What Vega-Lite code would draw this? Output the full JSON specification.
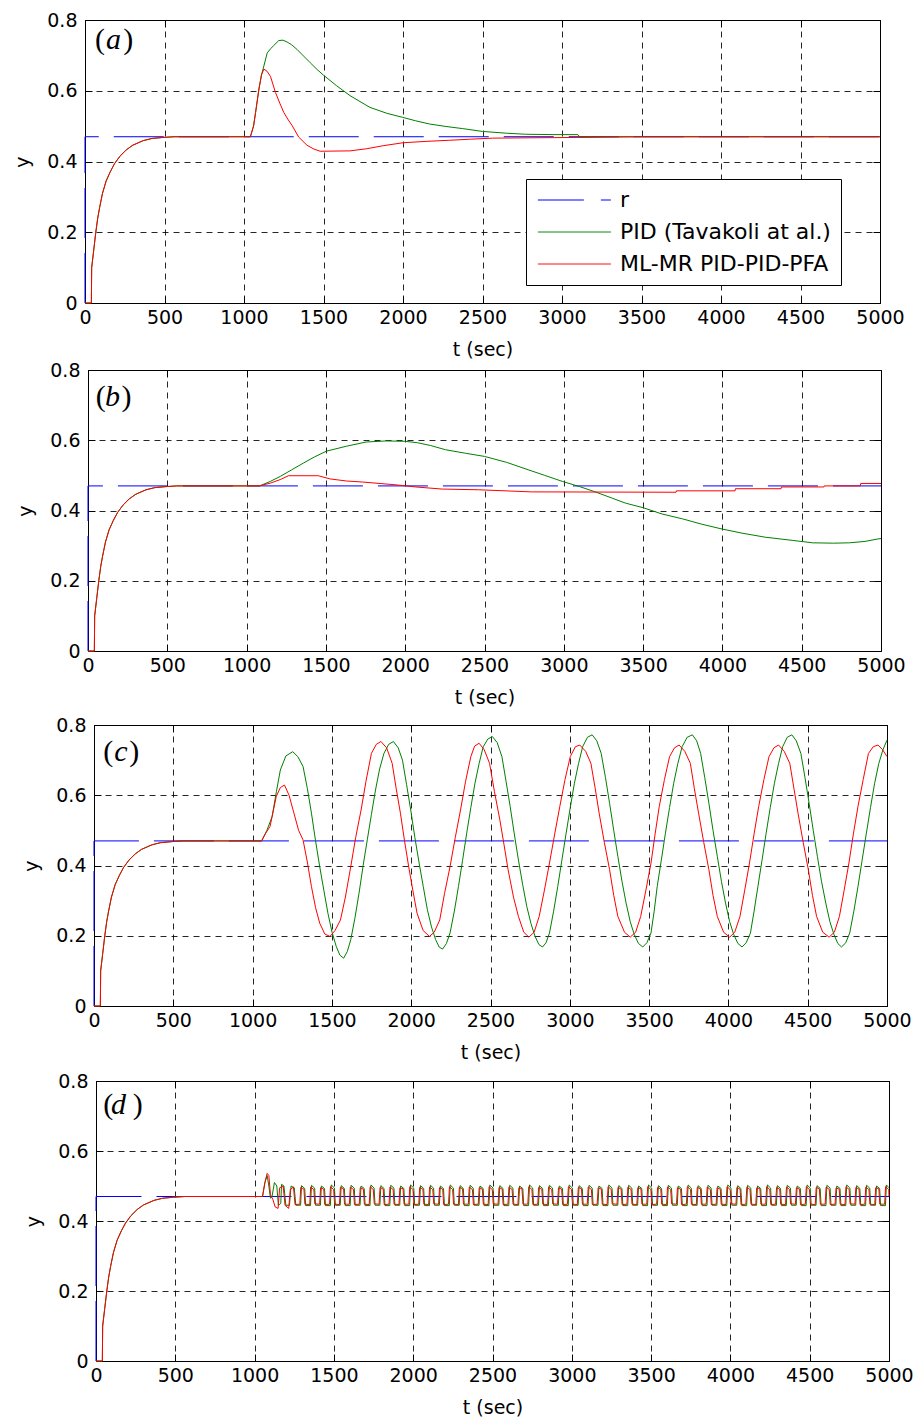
{
"$schema": "https://vega.github.io/schema/vega-lite/v6.json",
"background": "white",
"padding": {"top": 10, "left": 7, "right": 5, "bottom": 5},
"spacing": 0,
"resolve": {"scale": {"color": "independent"}, "legend": {"color": "independent"}},
"config": {
  "view": {"stroke": "black", "strokeWidth": 1},
  "axis": {"labelFont": "DejaVu Sans", "labelFontSize": 19, "labelColor": "black", "titleFont": "DejaVu Sans", "titleFontSize": 19, "titleFontWeight": "normal", "titleColor": "black", "grid": true, "gridColor": "black", "gridDash": [6, 5], "gridOpacity": 0.85, "gridWidth": 1, "domain": false, "ticks": true, "tickSize": -7, "tickColor": "black", "tickWidth": 1, "labelOverlap": false, "labelFlush": false},
  "axisX": {"labelPadding": 12, "titlePadding": 13},
  "axisY": {"labelPadding": 15, "titlePadding": 14}
},
"datasets": {
  "none": [],
  "R": [{"t":0,"y":0},{"t":0,"y":0.47},{"t":5000,"y":0.47}],
  "aM": [{"t":0,"y":0},{"t":40,"y":0},{"t":42,"y":0.1},{"t":55,"y":0.15},{"t":68,"y":0.2},{"t":80,"y":0.24},{"t":92,"y":0.27},{"t":110,"y":0.31},{"t":133,"y":0.345},{"t":160,"y":0.372},{"t":186,"y":0.394},{"t":220,"y":0.415},{"t":260,"y":0.433},{"t":300,"y":0.446},{"t":366,"y":0.459},{"t":420,"y":0.465},{"t":490,"y":0.468},{"t":560,"y":0.47},
    {"t":1040,"y":0.47},{"t":1060,"y":0.5},{"t":1073,"y":0.539},{"t":1094,"y":0.605},{"t":1110,"y":0.645},{"t":1125,"y":0.661},{"t":1145,"y":0.655},{"t":1167,"y":0.64},{"t":1198,"y":0.595},{"t":1225,"y":0.565},{"t":1250,"y":0.539},{"t":1275,"y":0.52},{"t":1302,"y":0.502},{"t":1344,"y":0.469},{"t":1396,"y":0.446},{"t":1440,"y":0.435},{"t":1479,"y":0.429},{"t":1667,"y":0.43},{"t":1771,"y":0.436},{"t":1880,"y":0.445},{"t":2000,"y":0.453},{"t":2150,"y":0.457},{"t":2292,"y":0.46},{"t":2420,"y":0.463},{"t":2563,"y":0.466},{"t":2800,"y":0.467},{"t":3100,"y":0.468},{"t":3500,"y":0.47},{"t":5000,"y":0.47}],
  "aP": [{"t":0,"y":0},{"t":40,"y":0},{"t":42,"y":0.1},{"t":55,"y":0.15},{"t":68,"y":0.2},{"t":80,"y":0.24},{"t":92,"y":0.27},{"t":110,"y":0.31},{"t":133,"y":0.345},{"t":160,"y":0.372},{"t":186,"y":0.394},{"t":220,"y":0.415},{"t":260,"y":0.433},{"t":300,"y":0.446},{"t":366,"y":0.459},{"t":420,"y":0.465},{"t":490,"y":0.468},{"t":560,"y":0.47},
    {"t":1040,"y":0.47},{"t":1060,"y":0.5},{"t":1073,"y":0.539},{"t":1094,"y":0.605},{"t":1110,"y":0.645},{"t":1125,"y":0.67},{"t":1146,"y":0.707},{"t":1170,"y":0.72},{"t":1187,"y":0.728},{"t":1219,"y":0.742},{"t":1245,"y":0.743},{"t":1270,"y":0.738},{"t":1300,"y":0.73},{"t":1333,"y":0.717},{"t":1375,"y":0.698},{"t":1417,"y":0.679},{"t":1460,"y":0.66},{"t":1500,"y":0.644},{"t":1583,"y":0.614},{"t":1667,"y":0.586},{"t":1792,"y":0.553},{"t":1900,"y":0.536},{"t":1996,"y":0.525},{"t":2080,"y":0.515},{"t":2167,"y":0.506},{"t":2270,"y":0.499},{"t":2375,"y":0.493},{"t":2500,"y":0.485},{"t":2650,"y":0.48},{"t":2771,"y":0.477},{"t":2950,"y":0.476},{"t":3100,"y":0.476},{"t":3110,"y":0.47},{"t":3500,"y":0.47},{"t":5000,"y":0.47}],
  "bM": [{"t":0,"y":0},{"t":40,"y":0},{"t":42,"y":0.1},{"t":55,"y":0.15},{"t":68,"y":0.2},{"t":80,"y":0.24},{"t":92,"y":0.27},{"t":110,"y":0.31},{"t":133,"y":0.345},{"t":160,"y":0.372},{"t":186,"y":0.394},{"t":220,"y":0.415},{"t":260,"y":0.433},{"t":300,"y":0.446},{"t":366,"y":0.459},{"t":420,"y":0.465},{"t":490,"y":0.468},{"t":560,"y":0.47},
    {"t":1080,"y":0.47},{"t":1150,"y":0.478},{"t":1212,"y":0.488},{"t":1264,"y":0.499},{"t":1452,"y":0.499},{"t":1525,"y":0.49},{"t":1629,"y":0.484},{"t":1733,"y":0.481},{"t":1942,"y":0.473},{"t":2067,"y":0.467},{"t":2233,"y":0.461},{"t":2462,"y":0.459},{"t":2796,"y":0.453},{"t":3708,"y":0.452},{"t":3710,"y":0.456},{"t":4080,"y":0.456},{"t":4082,"y":0.462},{"t":4370,"y":0.462},{"t":4372,"y":0.467},{"t":4640,"y":0.467},{"t":4642,"y":0.47},{"t":4870,"y":0.47},{"t":4872,"y":0.477},{"t":5000,"y":0.477}],
  "bP": [{"t":0,"y":0},{"t":40,"y":0},{"t":42,"y":0.1},{"t":55,"y":0.15},{"t":68,"y":0.2},{"t":80,"y":0.24},{"t":92,"y":0.27},{"t":110,"y":0.31},{"t":133,"y":0.345},{"t":160,"y":0.372},{"t":186,"y":0.394},{"t":220,"y":0.415},{"t":260,"y":0.433},{"t":300,"y":0.446},{"t":366,"y":0.459},{"t":420,"y":0.465},{"t":490,"y":0.468},{"t":560,"y":0.47},
    {"t":1083,"y":0.47},{"t":1150,"y":0.483},{"t":1212,"y":0.497},{"t":1285,"y":0.516},{"t":1358,"y":0.535},{"t":1430,"y":0.553},{"t":1504,"y":0.569},{"t":1629,"y":0.583},{"t":1754,"y":0.595},{"t":1880,"y":0.598},{"t":2000,"y":0.597},{"t":2077,"y":0.593},{"t":2160,"y":0.585},{"t":2254,"y":0.573},{"t":2380,"y":0.563},{"t":2500,"y":0.554},{"t":2640,"y":0.537},{"t":2775,"y":0.516},{"t":2880,"y":0.5},{"t":2990,"y":0.483},{"t":3100,"y":0.468},{"t":3192,"y":0.454},{"t":3300,"y":0.436},{"t":3389,"y":0.421},{"t":3500,"y":0.408},{"t":3620,"y":0.39},{"t":3750,"y":0.376},{"t":3870,"y":0.361},{"t":4000,"y":0.347},{"t":4130,"y":0.335},{"t":4270,"y":0.324},{"t":4440,"y":0.315},{"t":4570,"y":0.308},{"t":4700,"y":0.307},{"t":4800,"y":0.308},{"t":4900,"y":0.312},{"t":4980,"y":0.319},{"t":5000,"y":0.32}],
  "cM": [{"t":0,"y":0},{"t":40,"y":0},{"t":42,"y":0.1},{"t":55,"y":0.15},{"t":68,"y":0.2},{"t":80,"y":0.24},{"t":92,"y":0.27},{"t":110,"y":0.31},{"t":133,"y":0.345},{"t":160,"y":0.372},{"t":186,"y":0.394},{"t":220,"y":0.415},{"t":260,"y":0.433},{"t":300,"y":0.446},{"t":366,"y":0.459},{"t":420,"y":0.465},{"t":490,"y":0.468},{"t":560,"y":0.47},
    {"t":1057,"y":0.47},{"t":1080,"y":0.49},{"t":1110,"y":0.511},{"t":1149,"y":0.596},{"t":1175,"y":0.622},{"t":1201,"y":0.629},{"t":1230,"y":0.6},{"t":1260,"y":0.55},{"t":1290,"y":0.5},{"t":1318,"y":0.473},{"t":1345,"y":0.41},{"t":1371,"y":0.34},{"t":1397,"y":0.28},{"t":1423,"y":0.236},{"t":1455,"y":0.205},{"t":1488,"y":0.198},{"t":1520,"y":0.215},{"t":1554,"y":0.245},{"t":1585,"y":0.31},{"t":1619,"y":0.397},{"t":1650,"y":0.48},{"t":1684,"y":0.558},{"t":1715,"y":0.64},{"t":1749,"y":0.719},{"t":1780,"y":0.745},{"t":1809,"y":0.753},{"t":1845,"y":0.735},{"t":1880,"y":0.691},{"t":1905,"y":0.62},{"t":1932,"y":0.549},{"t":1958,"y":0.47},{"t":1984,"y":0.397},{"t":2010,"y":0.33},{"t":2037,"y":0.264},{"t":2075,"y":0.215},{"t":2115,"y":0.198},{"t":2145,"y":0.21},{"t":2180,"y":0.245},{"t":2210,"y":0.32},{"t":2245,"y":0.397},{"t":2278,"y":0.48},{"t":2311,"y":0.558},{"t":2343,"y":0.64},{"t":2376,"y":0.71},{"t":2400,"y":0.74},{"t":2428,"y":0.748},{"t":2460,"y":0.73},{"t":2494,"y":0.691},{"t":2525,"y":0.61},{"t":2559,"y":0.53},{"t":2585,"y":0.46},{"t":2611,"y":0.388},{"t":2645,"y":0.31},{"t":2676,"y":0.255},{"t":2710,"y":0.21},{"t":2742,"y":0.196},{"t":2775,"y":0.21},{"t":2807,"y":0.255},{"t":2840,"y":0.33},{"t":2872,"y":0.407},{"t":2905,"y":0.49},{"t":2937,"y":0.568},{"t":2970,"y":0.645},{"t":3003,"y":0.71},{"t":3035,"y":0.738},{"t":3063,"y":0.743},{"t":3100,"y":0.725},{"t":3133,"y":0.691},{"t":3160,"y":0.62},{"t":3185,"y":0.549},{"t":3218,"y":0.465},{"t":3251,"y":0.388},{"t":3277,"y":0.315},{"t":3303,"y":0.255},{"t":3345,"y":0.21},{"t":3381,"y":0.196},{"t":3415,"y":0.21},{"t":3447,"y":0.255},{"t":3480,"y":0.33},{"t":3512,"y":0.407},{"t":3538,"y":0.49},{"t":3564,"y":0.568},{"t":3597,"y":0.645},{"t":3629,"y":0.71},{"t":3660,"y":0.735},{"t":3689,"y":0.743},{"t":3725,"y":0.725},{"t":3760,"y":0.691},{"t":3785,"y":0.62},{"t":3812,"y":0.549},{"t":3845,"y":0.465},{"t":3877,"y":0.388},{"t":3903,"y":0.315},{"t":3930,"y":0.255},{"t":3970,"y":0.21},{"t":4008,"y":0.196},{"t":4040,"y":0.21},{"t":4073,"y":0.255},{"t":4103,"y":0.33},{"t":4133,"y":0.407},{"t":4162,"y":0.49},{"t":4191,"y":0.568},{"t":4224,"y":0.645},{"t":4256,"y":0.71},{"t":4287,"y":0.735},{"t":4316,"y":0.743},{"t":4352,"y":0.725},{"t":4387,"y":0.691},{"t":4413,"y":0.62},{"t":4439,"y":0.549},{"t":4472,"y":0.465},{"t":4504,"y":0.388},{"t":4530,"y":0.315},{"t":4556,"y":0.255},{"t":4595,"y":0.21},{"t":4635,"y":0.196},{"t":4668,"y":0.21},{"t":4700,"y":0.255},{"t":4730,"y":0.33},{"t":4760,"y":0.407},{"t":4788,"y":0.49},{"t":4817,"y":0.568},{"t":4850,"y":0.645},{"t":4883,"y":0.719},{"t":4913,"y":0.738},{"t":4943,"y":0.743},{"t":4972,"y":0.73},{"t":5000,"y":0.71}],
  "cP": [{"t":0,"y":0},{"t":40,"y":0},{"t":42,"y":0.1},{"t":55,"y":0.15},{"t":68,"y":0.2},{"t":80,"y":0.24},{"t":92,"y":0.27},{"t":110,"y":0.31},{"t":133,"y":0.345},{"t":160,"y":0.372},{"t":186,"y":0.394},{"t":220,"y":0.415},{"t":260,"y":0.433},{"t":300,"y":0.446},{"t":366,"y":0.459},{"t":420,"y":0.465},{"t":490,"y":0.468},{"t":560,"y":0.47},
    {"t":1057,"y":0.47},{"t":1090,"y":0.5},{"t":1123,"y":0.539},{"t":1150,"y":0.61},{"t":1175,"y":0.672},{"t":1210,"y":0.712},{"t":1253,"y":0.724},{"t":1285,"y":0.71},{"t":1318,"y":0.682},{"t":1345,"y":0.62},{"t":1371,"y":0.549},{"t":1397,"y":0.47},{"t":1423,"y":0.397},{"t":1449,"y":0.33},{"t":1475,"y":0.264},{"t":1501,"y":0.21},{"t":1527,"y":0.17},{"t":1550,"y":0.145},{"t":1574,"y":0.136},{"t":1597,"y":0.155},{"t":1619,"y":0.189},{"t":1645,"y":0.25},{"t":1671,"y":0.321},{"t":1697,"y":0.4},{"t":1723,"y":0.473},{"t":1749,"y":0.545},{"t":1775,"y":0.615},{"t":1801,"y":0.675},{"t":1828,"y":0.719},{"t":1858,"y":0.745},{"t":1888,"y":0.753},{"t":1918,"y":0.735},{"t":1945,"y":0.7},{"t":1971,"y":0.63},{"t":1997,"y":0.558},{"t":2023,"y":0.48},{"t":2050,"y":0.407},{"t":2076,"y":0.34},{"t":2102,"y":0.274},{"t":2128,"y":0.225},{"t":2154,"y":0.189},{"t":2176,"y":0.168},{"t":2198,"y":0.162},{"t":2222,"y":0.178},{"t":2245,"y":0.208},{"t":2272,"y":0.27},{"t":2298,"y":0.34},{"t":2324,"y":0.415},{"t":2350,"y":0.492},{"t":2376,"y":0.565},{"t":2402,"y":0.634},{"t":2428,"y":0.69},{"t":2454,"y":0.738},{"t":2483,"y":0.76},{"t":2512,"y":0.767},{"t":2542,"y":0.75},{"t":2572,"y":0.71},{"t":2598,"y":0.64},{"t":2624,"y":0.568},{"t":2650,"y":0.49},{"t":2676,"y":0.416},{"t":2703,"y":0.345},{"t":2729,"y":0.283},{"t":2755,"y":0.235},{"t":2781,"y":0.198},{"t":2805,"y":0.175},{"t":2828,"y":0.168},{"t":2850,"y":0.18},{"t":2872,"y":0.208},{"t":2898,"y":0.27},{"t":2924,"y":0.34},{"t":2950,"y":0.415},{"t":2977,"y":0.492},{"t":3003,"y":0.565},{"t":3029,"y":0.634},{"t":3055,"y":0.69},{"t":3081,"y":0.738},{"t":3111,"y":0.765},{"t":3141,"y":0.772},{"t":3170,"y":0.755},{"t":3198,"y":0.719},{"t":3225,"y":0.65},{"t":3251,"y":0.577},{"t":3277,"y":0.5},{"t":3303,"y":0.426},{"t":3329,"y":0.355},{"t":3355,"y":0.293},{"t":3381,"y":0.24},{"t":3407,"y":0.203},{"t":3433,"y":0.178},{"t":3460,"y":0.168},{"t":3486,"y":0.18},{"t":3512,"y":0.208},{"t":3532,"y":0.27},{"t":3551,"y":0.34},{"t":3577,"y":0.415},{"t":3603,"y":0.492},{"t":3629,"y":0.565},{"t":3655,"y":0.634},{"t":3681,"y":0.69},{"t":3708,"y":0.738},{"t":3740,"y":0.765},{"t":3773,"y":0.772},{"t":3800,"y":0.755},{"t":3825,"y":0.719},{"t":3851,"y":0.65},{"t":3877,"y":0.577},{"t":3903,"y":0.5},{"t":3930,"y":0.426},{"t":3956,"y":0.355},{"t":3982,"y":0.293},{"t":4008,"y":0.24},{"t":4034,"y":0.203},{"t":4060,"y":0.178},{"t":4086,"y":0.168},{"t":4112,"y":0.18},{"t":4139,"y":0.208},{"t":4162,"y":0.27},{"t":4186,"y":0.34},{"t":4212,"y":0.415},{"t":4238,"y":0.492},{"t":4264,"y":0.565},{"t":4290,"y":0.634},{"t":4316,"y":0.69},{"t":4342,"y":0.738},{"t":4371,"y":0.765},{"t":4400,"y":0.772},{"t":4428,"y":0.755},{"t":4457,"y":0.719},{"t":4483,"y":0.65},{"t":4509,"y":0.577},{"t":4535,"y":0.5},{"t":4561,"y":0.426},{"t":4587,"y":0.355},{"t":4614,"y":0.293},{"t":4640,"y":0.24},{"t":4666,"y":0.203},{"t":4690,"y":0.178},{"t":4713,"y":0.168},{"t":4740,"y":0.18},{"t":4765,"y":0.208},{"t":4791,"y":0.27},{"t":4817,"y":0.34},{"t":4843,"y":0.415},{"t":4870,"y":0.492},{"t":4896,"y":0.565},{"t":4922,"y":0.634},{"t":4948,"y":0.69},{"t":4974,"y":0.729},{"t":5000,"y":0.757}],
  "dM": [{"t":0,"y":0},{"t":40,"y":0},{"t":42,"y":0.1},{"t":55,"y":0.15},{"t":68,"y":0.2},{"t":80,"y":0.24},{"t":92,"y":0.27},{"t":110,"y":0.31},{"t":133,"y":0.345},{"t":160,"y":0.372},{"t":186,"y":0.394},{"t":220,"y":0.415},{"t":260,"y":0.433},{"t":300,"y":0.446},{"t":366,"y":0.459},{"t":420,"y":0.465},{"t":490,"y":0.468},{"t":560,"y":0.47},
    {"t":1050,"y":0.47},{"t":1065,"y":0.51},{"t":1079,"y":0.536},{"t":1090,"y":0.53},{"t":1100,"y":0.475},{"t":1115,"y":0.462},{"t":1130,"y":0.44},{"t":1148,"y":0.436},{"t":1158,"y":0.495},{"t":1180,"y":0.5},{"t":1192,"y":0.445},{"t":1215,"y":0.436},{"t":1225,"y":0.49},{"t":1245,"y":0.497},{"t":1255,"y":0.447},
    {"t":1285,"y":0.448},{"t":1291,"y":0.496},{"t":1311,"y":0.491},{"t":1317,"y":0.448},
    {"t":1347.5,"y":0.447},{"t":1353.5,"y":0.497},{"t":1373.5,"y":0.49},{"t":1379.5,"y":0.449},
    {"t":1410,"y":0.448},{"t":1416,"y":0.495},{"t":1436,"y":0.491},{"t":1442,"y":0.447},
    {"t":1472.5,"y":0.448},{"t":1478.5,"y":0.498},{"t":1498.5,"y":0.49},{"t":1504.5,"y":0.448},
    {"t":1535,"y":0.447},{"t":1541,"y":0.496},{"t":1561,"y":0.492},{"t":1567,"y":0.448},
    {"t":1597.5,"y":0.448},{"t":1603.5,"y":0.497},{"t":1623.5,"y":0.49},{"t":1629.5,"y":0.447},
    {"t":1660,"y":0.448},{"t":1666,"y":0.495},{"t":1686,"y":0.491},{"t":1692,"y":0.448},
    {"t":1722.5,"y":0.447},{"t":1728.5,"y":0.498},{"t":1748.5,"y":0.49},{"t":1754.5,"y":0.449},
    {"t":1785,"y":0.448},{"t":1791,"y":0.496},{"t":1811,"y":0.491},{"t":1817,"y":0.447},
    {"t":1847.5,"y":0.448},{"t":1853.5,"y":0.497},{"t":1873.5,"y":0.49},{"t":1879.5,"y":0.448},
    {"t":1910,"y":0.447},{"t":1916,"y":0.495},{"t":1936,"y":0.492},{"t":1942,"y":0.448},
    {"t":1972.5,"y":0.448},{"t":1978.5,"y":0.498},{"t":1998.5,"y":0.49},{"t":2004.5,"y":0.447},
    {"t":2035,"y":0.448},{"t":2041,"y":0.496},{"t":2061,"y":0.491},{"t":2067,"y":0.448},
    {"t":2097.5,"y":0.447},{"t":2103.5,"y":0.497},{"t":2123.5,"y":0.49},{"t":2129.5,"y":0.449},
    {"t":2160,"y":0.448},{"t":2166,"y":0.495},{"t":2186,"y":0.491},{"t":2192,"y":0.447},
    {"t":2222.5,"y":0.448},{"t":2228.5,"y":0.498},{"t":2248.5,"y":0.49},{"t":2254.5,"y":0.448},
    {"t":2285,"y":0.447},{"t":2291,"y":0.496},{"t":2311,"y":0.492},{"t":2317,"y":0.448},
    {"t":2347.5,"y":0.448},{"t":2353.5,"y":0.497},{"t":2373.5,"y":0.49},{"t":2379.5,"y":0.447},
    {"t":2410,"y":0.448},{"t":2416,"y":0.495},{"t":2436,"y":0.491},{"t":2442,"y":0.448},
    {"t":2472.5,"y":0.447},{"t":2478.5,"y":0.498},{"t":2498.5,"y":0.49},{"t":2504.5,"y":0.449},
    {"t":2535,"y":0.448},{"t":2541,"y":0.496},{"t":2561,"y":0.491},{"t":2567,"y":0.447},
    {"t":2597.5,"y":0.448},{"t":2603.5,"y":0.497},{"t":2623.5,"y":0.49},{"t":2629.5,"y":0.448},
    {"t":2660,"y":0.447},{"t":2666,"y":0.495},{"t":2686,"y":0.492},{"t":2692,"y":0.448},
    {"t":2722.5,"y":0.448},{"t":2728.5,"y":0.498},{"t":2748.5,"y":0.49},{"t":2754.5,"y":0.447},
    {"t":2785,"y":0.448},{"t":2791,"y":0.496},{"t":2811,"y":0.491},{"t":2817,"y":0.448},
    {"t":2847.5,"y":0.447},{"t":2853.5,"y":0.497},{"t":2873.5,"y":0.49},{"t":2879.5,"y":0.449},
    {"t":2910,"y":0.448},{"t":2916,"y":0.495},{"t":2936,"y":0.491},{"t":2942,"y":0.447},
    {"t":2972.5,"y":0.448},{"t":2978.5,"y":0.498},{"t":2998.5,"y":0.49},{"t":3004.5,"y":0.448},
    {"t":3035,"y":0.447},{"t":3041,"y":0.496},{"t":3061,"y":0.492},{"t":3067,"y":0.448},
    {"t":3097.5,"y":0.448},{"t":3103.5,"y":0.497},{"t":3123.5,"y":0.49},{"t":3129.5,"y":0.447},
    {"t":3160,"y":0.448},{"t":3166,"y":0.495},{"t":3186,"y":0.491},{"t":3192,"y":0.448},
    {"t":3222.5,"y":0.447},{"t":3228.5,"y":0.498},{"t":3248.5,"y":0.49},{"t":3254.5,"y":0.449},
    {"t":3285,"y":0.448},{"t":3291,"y":0.496},{"t":3311,"y":0.491},{"t":3317,"y":0.447},
    {"t":3347.5,"y":0.448},{"t":3353.5,"y":0.497},{"t":3373.5,"y":0.49},{"t":3379.5,"y":0.448},
    {"t":3410,"y":0.447},{"t":3416,"y":0.495},{"t":3436,"y":0.492},{"t":3442,"y":0.448},
    {"t":3472.5,"y":0.448},{"t":3478.5,"y":0.498},{"t":3498.5,"y":0.49},{"t":3504.5,"y":0.447},
    {"t":3535,"y":0.448},{"t":3541,"y":0.496},{"t":3561,"y":0.491},{"t":3567,"y":0.448},
    {"t":3597.5,"y":0.447},{"t":3603.5,"y":0.497},{"t":3623.5,"y":0.49},{"t":3629.5,"y":0.449},
    {"t":3660,"y":0.448},{"t":3666,"y":0.495},{"t":3686,"y":0.491},{"t":3692,"y":0.447},
    {"t":3722.5,"y":0.448},{"t":3728.5,"y":0.498},{"t":3748.5,"y":0.49},{"t":3754.5,"y":0.448},
    {"t":3785,"y":0.447},{"t":3791,"y":0.496},{"t":3811,"y":0.492},{"t":3817,"y":0.448},
    {"t":3847.5,"y":0.448},{"t":3853.5,"y":0.497},{"t":3873.5,"y":0.49},{"t":3879.5,"y":0.447},
    {"t":3910,"y":0.448},{"t":3916,"y":0.495},{"t":3936,"y":0.491},{"t":3942,"y":0.448},
    {"t":3972.5,"y":0.447},{"t":3978.5,"y":0.498},{"t":3998.5,"y":0.49},{"t":4004.5,"y":0.449},
    {"t":4035,"y":0.448},{"t":4041,"y":0.496},{"t":4061,"y":0.491},{"t":4067,"y":0.447},
    {"t":4097.5,"y":0.448},{"t":4103.5,"y":0.497},{"t":4123.5,"y":0.49},{"t":4129.5,"y":0.448},
    {"t":4160,"y":0.447},{"t":4166,"y":0.495},{"t":4186,"y":0.492},{"t":4192,"y":0.448},
    {"t":4222.5,"y":0.448},{"t":4228.5,"y":0.498},{"t":4248.5,"y":0.49},{"t":4254.5,"y":0.447},
    {"t":4285,"y":0.448},{"t":4291,"y":0.496},{"t":4311,"y":0.491},{"t":4317,"y":0.448},
    {"t":4347.5,"y":0.447},{"t":4353.5,"y":0.497},{"t":4373.5,"y":0.49},{"t":4379.5,"y":0.449},
    {"t":4410,"y":0.448},{"t":4416,"y":0.495},{"t":4436,"y":0.491},{"t":4442,"y":0.447},
    {"t":4472.5,"y":0.448},{"t":4478.5,"y":0.498},{"t":4498.5,"y":0.49},{"t":4504.5,"y":0.448},
    {"t":4535,"y":0.447},{"t":4541,"y":0.496},{"t":4561,"y":0.492},{"t":4567,"y":0.448},
    {"t":4597.5,"y":0.448},{"t":4603.5,"y":0.497},{"t":4623.5,"y":0.49},{"t":4629.5,"y":0.447},
    {"t":4660,"y":0.448},{"t":4666,"y":0.495},{"t":4686,"y":0.491},{"t":4692,"y":0.448},
    {"t":4722.5,"y":0.447},{"t":4728.5,"y":0.498},{"t":4748.5,"y":0.49},{"t":4754.5,"y":0.449},
    {"t":4785,"y":0.448},{"t":4791,"y":0.496},{"t":4811,"y":0.491},{"t":4817,"y":0.447},
    {"t":4847.5,"y":0.448},{"t":4853.5,"y":0.497},{"t":4873.5,"y":0.49},{"t":4879.5,"y":0.448},
    {"t":4910,"y":0.447},{"t":4916,"y":0.495},{"t":4936,"y":0.492},{"t":4942,"y":0.448},
    {"t":4972.5,"y":0.448},{"t":4978.5,"y":0.498},{"t":4998.5,"y":0.49},{"t":5000,"y":0.47}],
  "dP": [{"t":0,"y":0},{"t":40,"y":0},{"t":42,"y":0.1},{"t":55,"y":0.15},{"t":68,"y":0.2},{"t":80,"y":0.24},{"t":92,"y":0.27},{"t":110,"y":0.31},{"t":133,"y":0.345},{"t":160,"y":0.372},{"t":186,"y":0.394},{"t":220,"y":0.415},{"t":260,"y":0.433},{"t":300,"y":0.446},{"t":366,"y":0.459},{"t":420,"y":0.465},{"t":490,"y":0.468},{"t":560,"y":0.47},
    {"t":1050,"y":0.47},{"t":1065,"y":0.51},{"t":1079,"y":0.53},{"t":1090,"y":0.5},{"t":1100,"y":0.465},{"t":1110,"y":0.47},{"t":1125,"y":0.51},{"t":1140,"y":0.5},{"t":1150,"y":0.445},{"t":1165,"y":0.45},{"t":1170,"y":0.505},{"t":1185,"y":0.5},{"t":1197,"y":0.445},{"t":1220,"y":0.445},{"t":1230,"y":0.5},{"t":1250,"y":0.495},{"t":1260,"y":0.445},
    {"t":1290,"y":0.445},{"t":1296,"y":0.501},{"t":1316,"y":0.493},{"t":1322,"y":0.444},
    {"t":1352.5,"y":0.444},{"t":1358.5,"y":0.502},{"t":1378.5,"y":0.494},{"t":1384.5,"y":0.445},
    {"t":1415,"y":0.445},{"t":1421,"y":0.5},{"t":1441,"y":0.493},{"t":1447,"y":0.444},
    {"t":1477.5,"y":0.444},{"t":1483.5,"y":0.503},{"t":1503.5,"y":0.494},{"t":1509.5,"y":0.445},
    {"t":1540,"y":0.445},{"t":1546,"y":0.501},{"t":1566,"y":0.493},{"t":1572,"y":0.444},
    {"t":1602.5,"y":0.444},{"t":1608.5,"y":0.502},{"t":1628.5,"y":0.494},{"t":1634.5,"y":0.445},
    {"t":1665,"y":0.445},{"t":1671,"y":0.5},{"t":1691,"y":0.493},{"t":1697,"y":0.444},
    {"t":1727.5,"y":0.444},{"t":1733.5,"y":0.503},{"t":1753.5,"y":0.494},{"t":1759.5,"y":0.445},
    {"t":1790,"y":0.445},{"t":1796,"y":0.501},{"t":1816,"y":0.493},{"t":1822,"y":0.444},
    {"t":1852.5,"y":0.444},{"t":1858.5,"y":0.502},{"t":1878.5,"y":0.494},{"t":1884.5,"y":0.445},
    {"t":1915,"y":0.445},{"t":1921,"y":0.5},{"t":1941,"y":0.493},{"t":1947,"y":0.444},
    {"t":1977.5,"y":0.444},{"t":1983.5,"y":0.503},{"t":2003.5,"y":0.494},{"t":2009.5,"y":0.445},
    {"t":2040,"y":0.445},{"t":2046,"y":0.501},{"t":2066,"y":0.493},{"t":2072,"y":0.444},
    {"t":2102.5,"y":0.444},{"t":2108.5,"y":0.502},{"t":2128.5,"y":0.494},{"t":2134.5,"y":0.445},
    {"t":2165,"y":0.445},{"t":2171,"y":0.5},{"t":2191,"y":0.493},{"t":2197,"y":0.444},
    {"t":2227.5,"y":0.444},{"t":2233.5,"y":0.503},{"t":2253.5,"y":0.494},{"t":2259.5,"y":0.445},
    {"t":2290,"y":0.445},{"t":2296,"y":0.501},{"t":2316,"y":0.493},{"t":2322,"y":0.444},
    {"t":2352.5,"y":0.444},{"t":2358.5,"y":0.502},{"t":2378.5,"y":0.494},{"t":2384.5,"y":0.445},
    {"t":2415,"y":0.445},{"t":2421,"y":0.5},{"t":2441,"y":0.493},{"t":2447,"y":0.444},
    {"t":2477.5,"y":0.444},{"t":2483.5,"y":0.503},{"t":2503.5,"y":0.494},{"t":2509.5,"y":0.445},
    {"t":2540,"y":0.445},{"t":2546,"y":0.501},{"t":2566,"y":0.493},{"t":2572,"y":0.444},
    {"t":2602.5,"y":0.444},{"t":2608.5,"y":0.502},{"t":2628.5,"y":0.494},{"t":2634.5,"y":0.445},
    {"t":2665,"y":0.445},{"t":2671,"y":0.5},{"t":2691,"y":0.493},{"t":2697,"y":0.444},
    {"t":2727.5,"y":0.444},{"t":2733.5,"y":0.503},{"t":2753.5,"y":0.494},{"t":2759.5,"y":0.445},
    {"t":2790,"y":0.445},{"t":2796,"y":0.501},{"t":2816,"y":0.493},{"t":2822,"y":0.444},
    {"t":2852.5,"y":0.444},{"t":2858.5,"y":0.502},{"t":2878.5,"y":0.494},{"t":2884.5,"y":0.445},
    {"t":2915,"y":0.445},{"t":2921,"y":0.5},{"t":2941,"y":0.493},{"t":2947,"y":0.444},
    {"t":2977.5,"y":0.444},{"t":2983.5,"y":0.503},{"t":3003.5,"y":0.494},{"t":3009.5,"y":0.445},
    {"t":3040,"y":0.445},{"t":3046,"y":0.501},{"t":3066,"y":0.493},{"t":3072,"y":0.444},
    {"t":3102.5,"y":0.444},{"t":3108.5,"y":0.502},{"t":3128.5,"y":0.494},{"t":3134.5,"y":0.445},
    {"t":3165,"y":0.445},{"t":3171,"y":0.5},{"t":3191,"y":0.493},{"t":3197,"y":0.444},
    {"t":3227.5,"y":0.444},{"t":3233.5,"y":0.503},{"t":3253.5,"y":0.494},{"t":3259.5,"y":0.445},
    {"t":3290,"y":0.445},{"t":3296,"y":0.501},{"t":3316,"y":0.493},{"t":3322,"y":0.444},
    {"t":3352.5,"y":0.444},{"t":3358.5,"y":0.502},{"t":3378.5,"y":0.494},{"t":3384.5,"y":0.445},
    {"t":3415,"y":0.445},{"t":3421,"y":0.5},{"t":3441,"y":0.493},{"t":3447,"y":0.444},
    {"t":3477.5,"y":0.444},{"t":3483.5,"y":0.503},{"t":3503.5,"y":0.494},{"t":3509.5,"y":0.445},
    {"t":3540,"y":0.445},{"t":3546,"y":0.501},{"t":3566,"y":0.493},{"t":3572,"y":0.444},
    {"t":3602.5,"y":0.444},{"t":3608.5,"y":0.502},{"t":3628.5,"y":0.494},{"t":3634.5,"y":0.445},
    {"t":3665,"y":0.445},{"t":3671,"y":0.5},{"t":3691,"y":0.493},{"t":3697,"y":0.444},
    {"t":3727.5,"y":0.444},{"t":3733.5,"y":0.503},{"t":3753.5,"y":0.494},{"t":3759.5,"y":0.445},
    {"t":3790,"y":0.445},{"t":3796,"y":0.501},{"t":3816,"y":0.493},{"t":3822,"y":0.444},
    {"t":3852.5,"y":0.444},{"t":3858.5,"y":0.502},{"t":3878.5,"y":0.494},{"t":3884.5,"y":0.445},
    {"t":3915,"y":0.445},{"t":3921,"y":0.5},{"t":3941,"y":0.493},{"t":3947,"y":0.444},
    {"t":3977.5,"y":0.444},{"t":3983.5,"y":0.503},{"t":4003.5,"y":0.494},{"t":4009.5,"y":0.445},
    {"t":4040,"y":0.445},{"t":4046,"y":0.501},{"t":4066,"y":0.493},{"t":4072,"y":0.444},
    {"t":4102.5,"y":0.444},{"t":4108.5,"y":0.502},{"t":4128.5,"y":0.494},{"t":4134.5,"y":0.445},
    {"t":4165,"y":0.445},{"t":4171,"y":0.5},{"t":4191,"y":0.493},{"t":4197,"y":0.444},
    {"t":4227.5,"y":0.444},{"t":4233.5,"y":0.503},{"t":4253.5,"y":0.494},{"t":4259.5,"y":0.445},
    {"t":4290,"y":0.445},{"t":4296,"y":0.501},{"t":4316,"y":0.493},{"t":4322,"y":0.444},
    {"t":4352.5,"y":0.444},{"t":4358.5,"y":0.502},{"t":4378.5,"y":0.494},{"t":4384.5,"y":0.445},
    {"t":4415,"y":0.445},{"t":4421,"y":0.5},{"t":4441,"y":0.493},{"t":4447,"y":0.444},
    {"t":4477.5,"y":0.444},{"t":4483.5,"y":0.503},{"t":4503.5,"y":0.494},{"t":4509.5,"y":0.445},
    {"t":4540,"y":0.445},{"t":4546,"y":0.501},{"t":4566,"y":0.493},{"t":4572,"y":0.444},
    {"t":4602.5,"y":0.444},{"t":4608.5,"y":0.502},{"t":4628.5,"y":0.494},{"t":4634.5,"y":0.445},
    {"t":4665,"y":0.445},{"t":4671,"y":0.5},{"t":4691,"y":0.493},{"t":4697,"y":0.444},
    {"t":4727.5,"y":0.444},{"t":4733.5,"y":0.503},{"t":4753.5,"y":0.494},{"t":4759.5,"y":0.445},
    {"t":4790,"y":0.445},{"t":4796,"y":0.501},{"t":4816,"y":0.493},{"t":4822,"y":0.444},
    {"t":4852.5,"y":0.444},{"t":4858.5,"y":0.502},{"t":4878.5,"y":0.494},{"t":4884.5,"y":0.445},
    {"t":4915,"y":0.445},{"t":4921,"y":0.5},{"t":4941,"y":0.493},{"t":4947,"y":0.444},
    {"t":4977.5,"y":0.444},{"t":4983.5,"y":0.503},{"t":5000,"y":0.495}]
},
"vconcat": [
  {"hconcat": [
    {"width": 1, "height": 1, "view": {"stroke": "transparent"}, "data": {"name": "none"}, "mark": "point", "encoding": {}},
    {
    "width": 795, "height": 283,
    "resolve": {"axis": {"x": "independent", "y": "independent"}},
    "layer": [
     {"layer": [
      {"data": {"name": "R"}, "mark": {"type": "line", "strokeWidth": 1, "strokeDash": [50, 15]},
       "encoding": {
         "x": {"field": "t", "type": "quantitative", "scale": {"domain": [0, 5000], "nice": false, "zero": false}, "axis": {"title": "t (sec)", "values": [0,500,1000,1500,2000,2500,3000,3500,4000,4500,5000], "format": "d"}},
         "y": {"field": "y", "type": "quantitative", "scale": {"domain": [0, 0.8], "nice": false}, "axis": {"title": "y", "values": [0,0.2,0.4,0.6,0.8], "format": "~g"}},
         "order": {"value": null}, "color": {"datum": "r", "scale": {"domain": ["r", "PID (Tavakoli at al.)", "ML-MR PID-PID-PFA"], "range": ["#0000ff", "#008000", "#ff0000"]},
         "legend": {"orient": "none", "legendX": 441, "legendY": 159, "title": null, "strokeColor": "black", "fillColor": "white", "padding": 10, "cornerRadius": 0, "symbolType": "M -1 0 L 7 0", "symbolSize": 333, "symbolStrokeWidth": 1, "labelFont": "DejaVu Sans", "labelFontSize": 22, "labelColor": "black", "labelOffset": 62, "rowPadding": 10, "labelLimit": 400,
           "encode": {"symbols": {"update": {"strokeDash": {"signal": "datum.value === 'r' ? [46, 17] : [1, 0]"}}}}}}}},
      {"data": {"name": "aP"}, "mark": {"type": "line", "strokeWidth": 1}, "encoding": {"x": {"field": "t", "type": "quantitative"}, "y": {"field": "y", "type": "quantitative"}, "order": {"value": null}, "color": {"datum": "PID (Tavakoli at al.)"}}},
      {"data": {"name": "aM"}, "mark": {"type": "line", "strokeWidth": 1}, "encoding": {"x": {"field": "t", "type": "quantitative"}, "y": {"field": "y", "type": "quantitative"}, "order": {"value": null}, "color": {"datum": "ML-MR PID-PID-PFA"}}},
      {"data": {"values": [{"lab": "("}]}, "mark": {"type": "text", "font": "Liberation Serif", "fontSize": 30, "align": "left", "baseline": "alphabetic", "color": "black"}, "encoding": {"x": {"datum": 63}, "y": {"datum": 0.718}, "text": {"field": "lab"}}},
      {"data": {"values": [{"lab": "a"}]}, "mark": {"type": "text", "font": "Liberation Serif", "fontStyle": "italic", "fontSize": 30, "align": "left", "baseline": "alphabetic", "color": "black"}, "encoding": {"x": {"datum": 132}, "y": {"datum": 0.718}, "text": {"field": "lab"}}},
      {"data": {"values": [{"lab": ")"}]}, "mark": {"type": "text", "font": "Liberation Serif", "fontSize": 30, "align": "left", "baseline": "alphabetic", "color": "black"}, "encoding": {"x": {"datum": 240}, "y": {"datum": 0.718}, "text": {"field": "lab"}}}
     ]},
     {"data": {"name": "none"}, "mark": "point", "encoding": {"x": {"field": "t", "type": "quantitative", "axis": {"orient": "top", "labels": false, "grid": false, "title": null, "values": [0,500,1000,1500,2000,2500,3000,3500,4000,4500,5000]}}, "y": {"field": "y", "type": "quantitative", "axis": {"orient": "right", "labels": false, "grid": false, "title": null, "values": [0,0.2,0.4,0.6,0.8]}}}}
    ]
  }], "spacing": 3, "resolve": {"scale": {"color": "independent"}, "legend": {"color": "independent"}}},
  {"hconcat": [
    {"width": 1, "height": 1, "view": {"stroke": "transparent"}, "data": {"name": "none"}, "mark": "point", "encoding": {}},
    {
    "width": 793, "height": 281,
    "resolve": {"axis": {"x": "independent", "y": "independent"}},
    "layer": [
     {"layer": [
      {"data": {"name": "R"}, "mark": {"type": "line", "strokeWidth": 1, "strokeDash": [50, 15]},
       "encoding": {
         "x": {"field": "t", "type": "quantitative", "scale": {"domain": [0, 5000], "nice": false, "zero": false}, "axis": {"title": "t (sec)", "values": [0,500,1000,1500,2000,2500,3000,3500,4000,4500,5000], "format": "d"}},
         "y": {"field": "y", "type": "quantitative", "scale": {"domain": [0, 0.8], "nice": false}, "axis": {"title": "y", "values": [0,0.2,0.4,0.6,0.8], "format": "~g"}},
         "order": {"value": null}, "color": {"datum": "r", "scale": {"domain": ["r", "PID (Tavakoli at al.)", "ML-MR PID-PID-PFA"], "range": ["#0000ff", "#008000", "#ff0000"]}, "legend": null}}},
      {"data": {"name": "bP"}, "mark": {"type": "line", "strokeWidth": 1}, "encoding": {"x": {"field": "t", "type": "quantitative"}, "y": {"field": "y", "type": "quantitative"}, "order": {"value": null}, "color": {"datum": "PID (Tavakoli at al.)", "legend": null}}},
      {"data": {"name": "bM"}, "mark": {"type": "line", "strokeWidth": 1}, "encoding": {"x": {"field": "t", "type": "quantitative"}, "y": {"field": "y", "type": "quantitative"}, "order": {"value": null}, "color": {"datum": "ML-MR PID-PID-PFA", "legend": null}}},
      {"data": {"values": [{"lab": "("}]}, "mark": {"type": "text", "font": "Liberation Serif", "fontSize": 30, "align": "left", "baseline": "alphabetic", "color": "black"}, "encoding": {"x": {"datum": 49}, "y": {"datum": 0.698}, "text": {"field": "lab"}}},
      {"data": {"values": [{"lab": "b"}]}, "mark": {"type": "text", "font": "Liberation Serif", "fontStyle": "italic", "fontSize": 30, "align": "left", "baseline": "alphabetic", "color": "black"}, "encoding": {"x": {"datum": 107}, "y": {"datum": 0.698}, "text": {"field": "lab"}}},
      {"data": {"values": [{"lab": ")"}]}, "mark": {"type": "text", "font": "Liberation Serif", "fontSize": 30, "align": "left", "baseline": "alphabetic", "color": "black"}, "encoding": {"x": {"datum": 212}, "y": {"datum": 0.698}, "text": {"field": "lab"}}}
     ]},
     {"data": {"name": "none"}, "mark": "point", "encoding": {"x": {"field": "t", "type": "quantitative", "axis": {"orient": "top", "labels": false, "grid": false, "title": null, "values": [0,500,1000,1500,2000,2500,3000,3500,4000,4500,5000]}}, "y": {"field": "y", "type": "quantitative", "axis": {"orient": "right", "labels": false, "grid": false, "title": null, "values": [0,0.2,0.4,0.6,0.8]}}}}
    ]
  }], "spacing": 6, "resolve": {"scale": {"color": "independent"}, "legend": {"color": "independent"}}},
  {"width": 1, "height": 5, "view": {"stroke": "transparent"}, "data": {"name": "none"}, "mark": "point", "encoding": {}},
  {"hconcat": [
    {"width": 1, "height": 1, "view": {"stroke": "transparent"}, "data": {"name": "none"}, "mark": "point", "encoding": {}},
    {
    "width": 793, "height": 281,
    "resolve": {"axis": {"x": "independent", "y": "independent"}},
    "layer": [
     {"layer": [
      {"data": {"name": "R"}, "mark": {"type": "line", "strokeWidth": 1, "strokeDash": [60, 15]},
       "encoding": {
         "x": {"field": "t", "type": "quantitative", "scale": {"domain": [0, 5000], "nice": false, "zero": false}, "axis": {"title": "t (sec)", "values": [0,500,1000,1500,2000,2500,3000,3500,4000,4500,5000], "format": "d"}},
         "y": {"field": "y", "type": "quantitative", "scale": {"domain": [0, 0.8], "nice": false}, "axis": {"title": "y", "values": [0,0.2,0.4,0.6,0.8], "format": "~g"}},
         "order": {"value": null}, "color": {"datum": "r", "scale": {"domain": ["r", "PID (Tavakoli at al.)", "ML-MR PID-PID-PFA"], "range": ["#0000ff", "#008000", "#ff0000"]}, "legend": null}}},
      {"data": {"name": "cP"}, "mark": {"type": "line", "strokeWidth": 1}, "encoding": {"x": {"field": "t", "type": "quantitative"}, "y": {"field": "y", "type": "quantitative"}, "order": {"value": null}, "color": {"datum": "PID (Tavakoli at al.)", "legend": null}}},
      {"data": {"name": "cM"}, "mark": {"type": "line", "strokeWidth": 1}, "encoding": {"x": {"field": "t", "type": "quantitative"}, "y": {"field": "y", "type": "quantitative"}, "order": {"value": null}, "color": {"datum": "ML-MR PID-PID-PFA", "legend": null}}},
      {"data": {"values": [{"lab": "("}]}, "mark": {"type": "text", "font": "Liberation Serif", "fontSize": 30, "align": "left", "baseline": "alphabetic", "color": "black"}, "encoding": {"x": {"datum": 59}, "y": {"datum": 0.698}, "text": {"field": "lab"}}},
      {"data": {"values": [{"lab": "c"}]}, "mark": {"type": "text", "font": "Liberation Serif", "fontStyle": "italic", "fontSize": 30, "align": "left", "baseline": "alphabetic", "color": "black"}, "encoding": {"x": {"datum": 128}, "y": {"datum": 0.698}, "text": {"field": "lab"}}},
      {"data": {"values": [{"lab": ")"}]}, "mark": {"type": "text", "font": "Liberation Serif", "fontSize": 30, "align": "left", "baseline": "alphabetic", "color": "black"}, "encoding": {"x": {"datum": 223}, "y": {"datum": 0.698}, "text": {"field": "lab"}}}
     ]},
     {"data": {"name": "none"}, "mark": "point", "encoding": {"x": {"field": "t", "type": "quantitative", "axis": {"orient": "top", "labels": false, "grid": false, "title": null, "values": [0,500,1000,1500,2000,2500,3000,3500,4000,4500,5000]}}, "y": {"field": "y", "type": "quantitative", "axis": {"orient": "right", "labels": false, "grid": false, "title": null, "values": [0,0.2,0.4,0.6,0.8]}}}}
    ]
  }], "spacing": 12, "resolve": {"scale": {"color": "independent"}, "legend": {"color": "independent"}}},
  {"width": 1, "height": 6, "view": {"stroke": "transparent"}, "data": {"name": "none"}, "mark": "point", "encoding": {}},
  {"hconcat": [
    {"width": 1, "height": 1, "view": {"stroke": "transparent"}, "data": {"name": "none"}, "mark": "point", "encoding": {}},
    {
    "width": 793, "height": 280,
    "resolve": {"axis": {"x": "independent", "y": "independent"}},
    "layer": [
     {"layer": [
      {"data": {"name": "R"}, "mark": {"type": "line", "strokeWidth": 1, "strokeDash": [60, 15]},
       "encoding": {
         "x": {"field": "t", "type": "quantitative", "scale": {"domain": [0, 5000], "nice": false, "zero": false}, "axis": {"title": "t (sec)", "values": [0,500,1000,1500,2000,2500,3000,3500,4000,4500,5000], "format": "d"}},
         "y": {"field": "y", "type": "quantitative", "scale": {"domain": [0, 0.8], "nice": false}, "axis": {"title": "y", "values": [0,0.2,0.4,0.6,0.8], "format": "~g"}},
         "order": {"value": null}, "color": {"datum": "r", "scale": {"domain": ["r", "PID (Tavakoli at al.)", "ML-MR PID-PID-PFA"], "range": ["#0000ff", "#008000", "#ff0000"]}, "legend": null}}},
      {"data": {"name": "dP"}, "mark": {"type": "line", "strokeWidth": 1}, "encoding": {"x": {"field": "t", "type": "quantitative"}, "y": {"field": "y", "type": "quantitative"}, "order": {"value": null}, "color": {"datum": "PID (Tavakoli at al.)", "legend": null}}},
      {"data": {"name": "dM"}, "mark": {"type": "line", "strokeWidth": 1}, "encoding": {"x": {"field": "t", "type": "quantitative"}, "y": {"field": "y", "type": "quantitative"}, "order": {"value": null}, "color": {"datum": "ML-MR PID-PID-PFA", "legend": null}}},
      {"data": {"values": [{"lab": "("}]}, "mark": {"type": "text", "font": "Liberation Serif", "fontSize": 30, "align": "left", "baseline": "alphabetic", "color": "black"}, "encoding": {"x": {"datum": 46}, "y": {"datum": 0.705}, "text": {"field": "lab"}}},
      {"data": {"values": [{"lab": "d"}]}, "mark": {"type": "text", "font": "Liberation Serif", "fontStyle": "italic", "fontSize": 30, "align": "left", "baseline": "alphabetic", "color": "black"}, "encoding": {"x": {"datum": 95}, "y": {"datum": 0.705}, "text": {"field": "lab"}}},
      {"data": {"values": [{"lab": ")"}]}, "mark": {"type": "text", "font": "Liberation Serif", "fontSize": 30, "align": "left", "baseline": "alphabetic", "color": "black"}, "encoding": {"x": {"datum": 231}, "y": {"datum": 0.705}, "text": {"field": "lab"}}}
     ]},
     {"data": {"name": "none"}, "mark": "point", "encoding": {"x": {"field": "t", "type": "quantitative", "axis": {"orient": "top", "labels": false, "grid": false, "title": null, "values": [0,500,1000,1500,2000,2500,3000,3500,4000,4500,5000]}}, "y": {"field": "y", "type": "quantitative", "axis": {"orient": "right", "labels": false, "grid": false, "title": null, "values": [0,0.2,0.4,0.6,0.8]}}}}
    ]
  }], "spacing": 14, "resolve": {"scale": {"color": "independent"}, "legend": {"color": "independent"}}}
]
}
